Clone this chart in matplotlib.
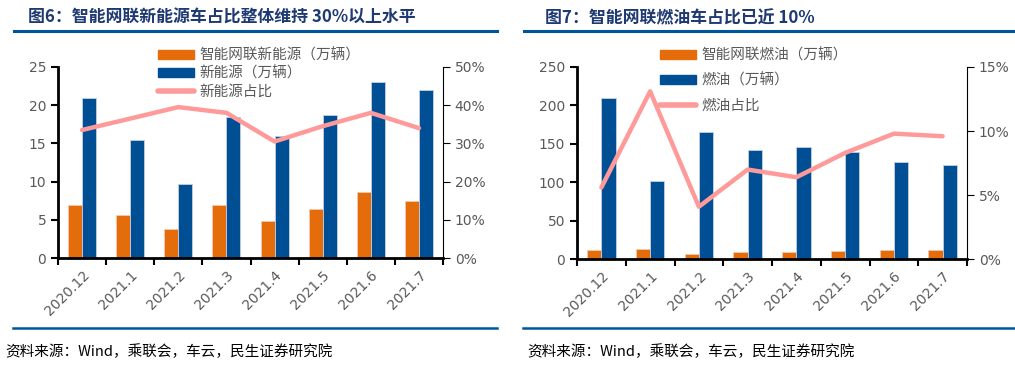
import matplotlib
matplotlib.use("Agg")
import matplotlib.pyplot as plt
from matplotlib.lines import Line2D
from matplotlib.ticker import FuncFormatter, MultipleLocator
import numpy as np

plt.rcParams['font.family'] = ['Noto Sans CJK SC', 'DejaVu Sans']

months = ["2020.12", "2021.1", "2021.2", "2021.3", "2021.4", "2021.5", "2021.6", "2021.7"]

# Figure 6: new energy
nev_smart = [7.0, 5.6, 3.8, 7.0, 4.85, 6.35, 8.6, 7.45]
nev_total = [21.0, 15.5, 9.7, 18.5, 16.0, 18.7, 23.0, 22.0]
nev_share = [33.5, 36.5, 39.5, 38.0, 30.5, 34.5, 38.0, 34.0]

# Figure 7: fuel
fuel_smart = [12, 13, 7, 10, 9, 11, 12, 12]
fuel_total = [210, 102, 165, 142, 146, 139, 127, 123]
fuel_share = [5.6, 13.1, 4.1, 7.0, 6.4, 8.3, 9.8, 9.6]

title6 = "图6：智能网联新能源车占比整体维持 30%以上水平"
title7 = "图7：智能网联燃油车占比已近 10%"
labels6 = ["智能网联新能源（万辆）", "新能源（万辆）", "新能源占比"]
labels7 = ["智能网联燃油（万辆）", "燃油（万辆）", "燃油占比"]
source = "资料来源：Wind，乘联会，车云，民生证券研究院"

ORANGE = "#E46C0A"
BLUE = "#004F95"
PINK = "#FF9A9A"
TITLE_C = "#1F3A72"
LINE_C = "#00559A"
TICK_C = "#595959"

W, H = 1015, 365
fig = plt.figure(figsize=(W / 100, H / 100), dpi=100)


def fx(px):
    return px / W


def fy(py):
    return 1 - py / H


def panel(rect, smart, total, share, ylim, ystep, rlim, rstep, labels, leg_anchor, leg_spacing):
    ax = fig.add_axes(rect)
    x = np.arange(len(months))
    w = 0.29
    ax.bar(x - w / 2, smart, w, color=ORANGE, edgecolor="#f2c9b0", linewidth=0.6, zorder=2)
    ax.bar(x + w / 2, total, w, color=BLUE, edgecolor="#c5cfe0", linewidth=0.6, zorder=2)
    ax.set_xlim(-0.5, len(months) - 0.5)
    ax.set_ylim(*ylim)
    ax.yaxis.set_major_locator(MultipleLocator(ystep))
    ax.set_xticks(x)
    ax.set_xticklabels(months, rotation=45, ha="right", rotation_mode="anchor",
                       fontsize=10, color=TICK_C, family="DejaVu Sans")
    ax.set_xticks(np.arange(len(months) + 1) - 0.5, minor=True)
    ax.tick_params(axis="x", which="major", length=0, pad=7)
    ax.tick_params(axis="x", which="minor", length=5, width=1.5, direction="out", color="black")
    ax.tick_params(axis="y", length=5, width=1.5, direction="out", labelsize=10, labelcolor=TICK_C)
    for lab in ax.get_yticklabels():
        lab.set_family("DejaVu Sans")
    ax.spines["top"].set_visible(False)
    ax.spines["right"].set_visible(False)
    ax.spines["left"].set_linewidth(2)
    ax.spines["bottom"].set_linewidth(2)

    ax2 = ax.twinx()
    ax2.plot(x, share, color=PINK, linewidth=3.2, solid_capstyle="round", zorder=3)
    ax2.set_ylim(*rlim)
    ax2.yaxis.set_major_locator(MultipleLocator(rstep))
    ax2.yaxis.set_major_formatter(FuncFormatter(lambda v, p: f"{v:.0f}%"))
    ax2.tick_params(axis="y", length=5, width=0.8, direction="out", labelsize=10, labelcolor=TICK_C)
    for lab in ax2.get_yticklabels():
        lab.set_family("DejaVu Sans")
    ax2.spines["top"].set_visible(False)
    ax2.spines["left"].set_visible(False)
    ax2.spines["bottom"].set_visible(False)
    ax2.spines["right"].set_linewidth(0.8)

    handles = [
        plt.Rectangle((0, 0), 1, 1, color=ORANGE),
        plt.Rectangle((0, 0), 1, 1, color=BLUE),
        Line2D([0], [0], color=PINK, linewidth=4, solid_capstyle="round"),
    ]
    leg = ax2.legend(handles, labels, loc="upper left", bbox_to_anchor=leg_anchor,
                     bbox_transform=fig.transFigure, frameon=False, fontsize=10.5,
                     borderpad=0, borderaxespad=0, handlelength=2.5, handleheight=0.55,
                     handletextpad=0.35, labelspacing=leg_spacing)
    for t in leg.get_texts():
        t.set_color(TICK_C)
    return ax, ax2


panel([fx(58), fy(258), fx(443 - 58), (258 - 67) / H], nev_smart, nev_total, nev_share,
      (0, 25), 5, (0, 50), 10, labels6, (fx(158), fy(48)), 0.28)
panel([fx(577), fy(259.3), fx(967 - 577), (259.3 - 67) / H], fuel_smart, fuel_total, fuel_share,
      (0, 250), 50, (0, 15), 5, labels7, (fx(660), fy(48)), 0.75)

# titles
fig.text(fx(28), fy(18), title6, fontsize=12.2, fontweight="bold", color=TITLE_C, va="center", ha="left")
fig.text(fx(545), fy(18), title7, fontsize=12.2, fontweight="bold", color=TITLE_C, va="center", ha="left")

# rules
for x0, x1 in [(14, 497), (524, 1015)]:
    fig.add_artist(Line2D([fx(x0), fx(x1)], [fy(31), fy(31)], color=LINE_C, linewidth=2.2,
                          transform=fig.transFigure))
    fig.add_artist(Line2D([fx(x0 - 1), fx(x1)], [fy(328), fy(328)], color=LINE_C, linewidth=1.8,
                          transform=fig.transFigure))

fig.text(fx(5), fy(352), source, fontsize=10.5, color="black", va="center", ha="left")
fig.text(fx(527), fy(352), source, fontsize=10.5, color="black", va="center", ha="left")

fig.savefig("out.png", dpi=100)
